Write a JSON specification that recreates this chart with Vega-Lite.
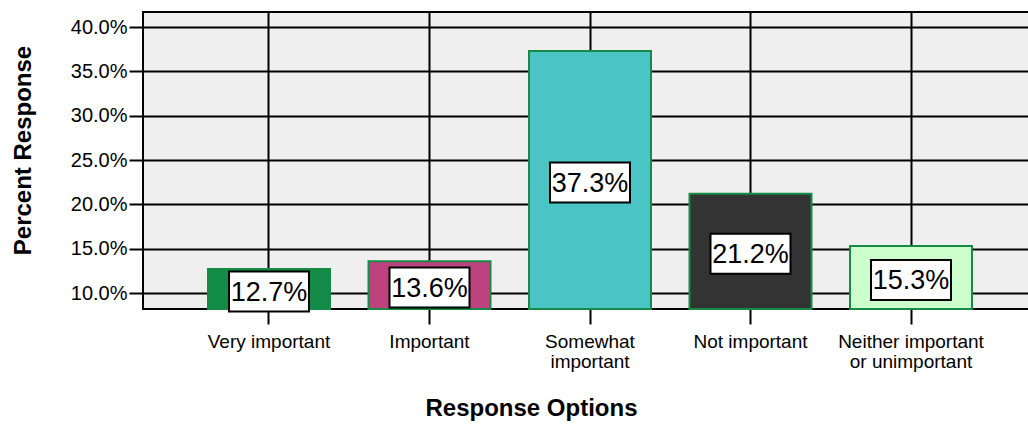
{
  "$schema": "https://vega.github.io/schema/vega-lite/v6.json",
  "width": 894,
  "height": 297,
  "autosize": "none",
  "padding": {"left": 143, "top": 12, "right": 0, "bottom": 117},
  "background": "white",
  "config": {
    "view": {"fill": "#efefef", "stroke": "black", "strokeWidth": 2},
    "font": "Liberation Sans"
  },
  "data": {
    "values": [
      {"option": "Very important", "pct": 0.127},
      {"option": "Important", "pct": 0.136},
      {"option": "Somewhat important", "pct": 0.373},
      {"option": "Not important", "pct": 0.212},
      {"option": "Neither important or unimportant", "pct": 0.153}
    ]
  },
  "transform": [{"calculate": "(datum.pct + 0.082) / 2", "as": "mid"}],
  "encoding": {
    "x": {
      "field": "option",
      "type": "nominal",
      "sort": null,
      "title": "Response Options",
      "scale": {"paddingInner": 0.24, "paddingOuter": 0.405},
      "axis": {
        "labelAngle": 0,
        "labelFontSize": 19,
        "labelLineHeight": 20,
        "labelColor": "black",
        "labelPadding": 8,
        "labelBaseline": "top",
        "labelExpr": "datum.value == 'Somewhat important' ? ['Somewhat', 'important'] : datum.value == 'Neither important or unimportant' ? ['Neither important', 'or unimportant'] : datum.value",
        "tickSize": 15,
        "tickWidth": 2,
        "tickColor": "black",
        "grid": true,
        "gridColor": "black",
        "gridWidth": 2,
        "gridOpacity": 1,
        "domain": false,
        "titleFontSize": 24,
        "titleFontWeight": "bold",
        "titleColor": "black",
        "titleX": 388,
        "titleY": 99,
        "titleBaseline": "middle"
      }
    }
  },
  "layer": [
    {
      "mark": {"type": "bar", "stroke": "#178a45", "strokeWidth": 2},
      "encoding": {
        "y": {
          "field": "pct",
          "type": "quantitative",
          "title": "Percent Response",
          "scale": {"domain": [0.082, 0.417], "zero": false, "nice": false},
          "axis": {
            "values": [0.1, 0.15, 0.2, 0.25, 0.3, 0.35, 0.4],
            "format": ".1%",
            "labelFontSize": 20,
            "labelColor": "black",
            "labelPadding": 2,
            "tickSize": 14,
            "tickWidth": 2,
            "tickColor": "black",
            "grid": true,
            "gridColor": "black",
            "gridWidth": 2,
            "gridOpacity": 1,
            "domain": false,
            "titleFontSize": 24,
            "titleFontWeight": "bold",
            "titleColor": "black",
            "titleAngle": -90,
            "titleX": -120,
            "titleY": 138,
            "titleAlign": "center",
            "titleBaseline": "middle"
          }
        },
        "y2": {"datum": 0.082},
        "fill": {
          "field": "option",
          "type": "nominal",
          "legend": null,
          "scale": {
            "domain": ["Very important", "Important", "Somewhat important", "Not important", "Neither important or unimportant"],
            "range": ["#128c46", "#bd437f", "#4bc4c6", "#333333", "#ccffcc"]
          }
        }
      }
    },
    {
      "mark": {"type": "point", "shape": "M-1,-0.5H1V0.5H-1Z", "size": 6400, "filled": true, "fill": "white", "stroke": "black", "strokeWidth": 2, "opacity": 1, "yOffset": 2.5},
      "encoding": {
        "y": {"field": "mid", "type": "quantitative", "title": "Percent Response"}
      }
    },
    {
      "mark": {"type": "text", "fontSize": 27, "baseline": "middle", "align": "center", "color": "black", "yOffset": 3.5},
      "encoding": {
        "y": {"field": "mid", "type": "quantitative", "title": "Percent Response"},
        "text": {"field": "pct", "type": "quantitative", "format": ".1%"}
      }
    }
  ]
}
